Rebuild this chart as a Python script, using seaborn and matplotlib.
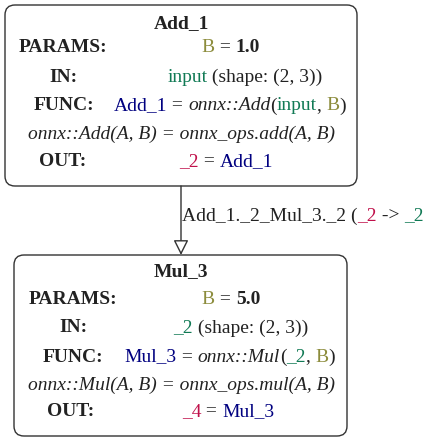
import matplotlib
matplotlib.use("Agg")
import matplotlib.pyplot as plt
import seaborn as sns
from matplotlib.patches import FancyBboxPatch, FancyArrowPatch

sns.set_style("white")
plt.rcParams['font.family'] = ['Liberation Serif', 'DejaVu Serif']

K = "#222222"; G = "#117a55"; O = "#8c8c3c"; N = "#000080"; R = "#c0104a"

node_titles = ["Add_1", "Mul_3"]
node_boxes = [(5, 5, 352, 181), (14, 255, 333, 181)]
node_rows = [
    [
        (24, 181, [("Add_1", K, "normal", "bold")]),
        (47, 63, [("PARAMS:", K, "normal", "bold")]),
        (47, 231, [("B", O, "normal", "normal"), (" = ", K, "normal", "normal"), ("1.0", K, "normal", "bold")]),
        (77, 63, [("IN:", K, "normal", "bold")]),
        (77, 245, [("input", G, "normal", "normal"), (" (shape: (2, 3))", K, "normal", "normal")]),
        (106, 64, [("FUNC:", K, "normal", "bold")]),
        (106, 230, [("Add_1", N, "normal", "normal"), (" = ", K, "normal", "normal"), ("onnx::Add", K, "italic", "normal"),
                    ("(", K, "normal", "normal"), ("input", G, "normal", "normal"), (", ", K, "normal", "normal"),
                    ("B", O, "normal", "normal"), (")", K, "normal", "normal")]),
        (134, 181, [("onnx::Add(A, B) = onnx_ops.add(A, B)", K, "italic", "normal")]),
        (162, 63, [("OUT:", K, "normal", "bold")]),
        (162, 226, [("_2", R, "normal", "normal"), (" = ", K, "normal", "normal"), ("Add_1", N, "normal", "normal")]),
    ],
    [
        (272, 181, [("Mul_3", K, "normal", "bold")]),
        (299, 73, [("PARAMS:", K, "normal", "bold")]),
        (299, 231, [("B", O, "normal", "normal"), (" = ", K, "normal", "normal"), ("5.0", K, "normal", "bold")]),
        (328, 73, [("IN:", K, "normal", "bold")]),
        (328, 241, [("_2", G, "normal", "normal"), (" (shape: (2, 3))", K, "normal", "normal")]),
        (357, 73, [("FUNC:", K, "normal", "bold")]),
        (357, 230, [("Mul_3", N, "normal", "normal"), (" = ", K, "normal", "normal"), ("onnx::Mul", K, "italic", "normal"),
                    ("(", K, "normal", "normal"), ("_2", G, "normal", "normal"), (", ", K, "normal", "normal"),
                    ("B", O, "normal", "normal"), (")", K, "normal", "normal")]),
        (385, 181, [("onnx::Mul(A, B) = onnx_ops.mul(A, B)", K, "italic", "normal")]),
        (412, 71, [("OUT:", K, "normal", "bold")]),
        (412, 228, [("_4", R, "normal", "normal"), (" = ", K, "normal", "normal"), ("Mul_3", N, "normal", "normal")]),
    ],
]
edge_pieces = [("Add_1._2_Mul_3._2 (", K, "normal", "normal"), ("_2", R, "normal", "normal"),
               (" -> ", K, "normal", "normal"), ("_2", G, "normal", "normal"), (")", K, "normal", "normal")]

fig = plt.figure(figsize=(4.24, 4.41), dpi=100)
ax = fig.add_axes([0, 0, 1, 1])
ax.set_xlim(0, 424); ax.set_ylim(441, 0); ax.axis("off")
r = fig.canvas.get_renderer()
FS = 14

def rich(y, x, pieces, center=True):
    ts = [ax.text(0, y, t, color=c, style=s, weight=w, fontsize=FS, va="center", ha="left")
          for t, c, s, w in pieces]
    widths = [t.get_window_extent(r).width for t in ts]
    cx = x - sum(widths) / 2 if center else x
    for t, w in zip(ts, widths):
        t.set_x(cx); cx += w

for (bx, by, bw, bh), rows in zip(node_boxes, node_rows):
    ax.add_patch(FancyBboxPatch((bx + 10, by + 10), bw - 20, bh - 20,
                                boxstyle="round,pad=10", fc="white", ec="#333333", lw=1))
    for y, x, p in rows:
        rich(y, x, p)

ax.add_patch(FancyArrowPatch((181, 186), (181, 255), arrowstyle="-|>,head_length=7,head_width=3.5",
                             fc="white", ec="#333333", lw=1, mutation_scale=1.3, shrinkA=0, shrinkB=0))
rich(216, 182, edge_pieces, center=False)

fig.savefig("out.png", dpi=100)
